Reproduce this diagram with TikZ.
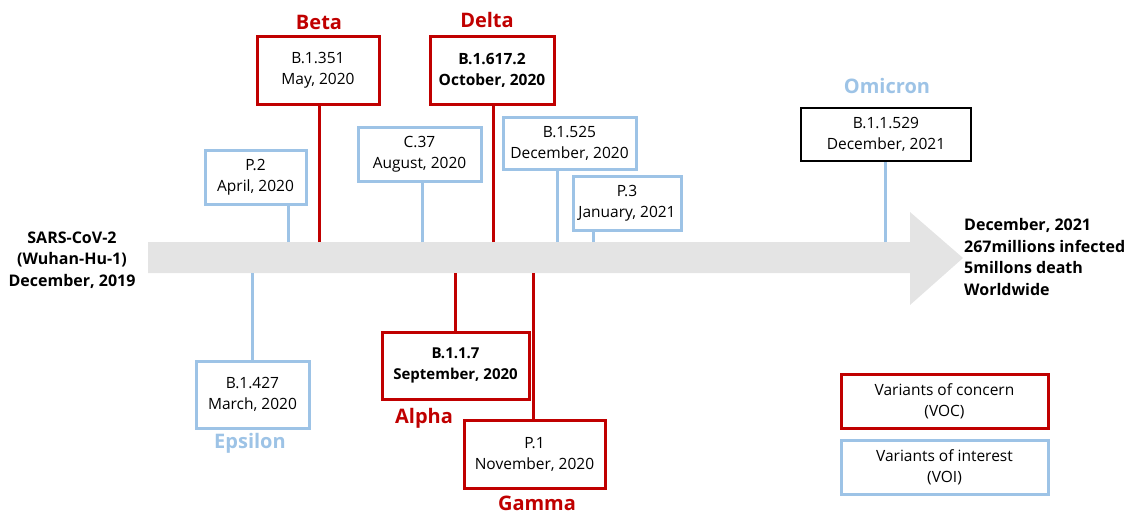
\documentclass[tikz,border=0pt]{standalone}
\usepackage{fontspec}
\setmainfont{Open Sans}
\definecolor{voc}{HTML}{C00000}
\definecolor{voi}{HTML}{9DC3E6}
\definecolor{band}{HTML}{E4E4E4}
\begin{document}
\begin{tikzpicture}[x=1pt,y=-1pt,
  vbox/.style={draw=#1,line width=3pt,fill=white,inner sep=0pt,align=center,
    font=\fontsize{15.5}{21}\selectfont},
  conn/.style={draw=#1,line width=3pt},
  lab/.style={text=#1,font=\fontsize{20}{24}\selectfont\bfseries,inner sep=0pt},
  info/.style={font=\fontsize{16}{21.5}\selectfont\bfseries,inner sep=0pt}]
\useasboundingbox (0,0) rectangle (1131,515);
% timeline arrow
\fill[band] (148,242) -- (910,242) -- (910,212) -- (963,258) -- (910,305) -- (910,273) -- (148,273) -- cycle;
% boxes
\node[vbox=voi,minimum width=101pt,minimum height=54pt] (P2) at (255.5,177) {P.2\\April, 2020};
\node[vbox=voc,minimum width=122pt,minimum height=68pt] (B1351) at (318,70) {B.1.351\\May, 2020};
\node[vbox=voi,minimum width=123pt,minimum height=54pt] (C37) at (419.5,154) {C.37\\August, 2020};
\node[vbox=voc,minimum width=124pt,minimum height=68pt,font=\fontsize{15.5}{21}\selectfont\bfseries] (B16172) at (492,70) {B.1.617.2\\October, 2020};
\node[vbox=voi,minimum width=133pt,minimum height=52pt] (B1525) at (569.5,143) {B.1.525\\December, 2020};
\node[vbox=voi,minimum width=108pt,minimum height=54pt] (P3) at (627,203) {P.3\\January, 2021};
\node[vbox=black,line width=1.4pt,minimum width=170pt,minimum height=53pt] (B11529) at (886,134.5) {B.1.1.529\\December, 2021};
\node[vbox=voi,minimum width=113pt,minimum height=67pt] (B1427) at (252.5,394.5) {B.1.427\\March, 2020};
\node[vbox=voc,minimum width=147pt,minimum height=67pt,font=\fontsize{15}{21}\selectfont\bfseries] (B117) at (455.5,365.5) {B.1.1.7\\September, 2020};
\node[vbox=voc,minimum width=141pt,minimum height=68pt] (P1) at (534.5,454) {P.1\\November, 2020};
\node[vbox=voc,minimum width=207pt,minimum height=54pt] (VOC) at (944.5,401) {Variants of concern\\(VOC)};
\node[vbox=voi,minimum width=207pt,minimum height=54pt] (VOI) at (944.5,467) {Variants of interest\\(VOI)};
% band anchor points
\coordinate (tP2) at (288,242);
\coordinate (tB1351) at (319,242);
\coordinate (tC37) at (422,242);
\coordinate (tB16172) at (493,242);
\coordinate (tB1525) at (557,242);
\coordinate (tP3) at (593,242);
\coordinate (tB11529) at (885,242);
\coordinate (bB1427) at (252,273);
\coordinate (bB117) at (455,273);
\coordinate (bP1) at (533,273);
% connectors
\draw[conn=voi] (tP2) -- (tP2 |- P2.south);
\draw[conn=voc] (tB1351) -- (tB1351 |- B1351.south);
\draw[conn=voi] (tC37) -- (tC37 |- C37.south);
\draw[conn=voc] (tB16172) -- (tB16172 |- B16172.south);
\draw[conn=voi] (tB1525) -- (tB1525 |- B1525.south);
\draw[conn=voi] (tP3) -- (tP3 |- P3.south);
\draw[conn=voi] (tB11529) -- (tB11529 |- B11529.south);
\draw[conn=voi] (bB1427) -- (bB1427 |- B1427.north);
\draw[conn=voc] (bB117) -- (bB117 |- B117.north);
\draw[conn=voc] (bP1) -- (bP1 |- P1.north);
% variant names
\node[lab=voc] (beta) at (319,22) {Beta};
\node[lab=voc] (delta) at (487,20) {Delta};
\node[lab=voi] (omicron) at (887,86) {Omicron};
\node[lab=voi] (epsilon) at (250,443) {Epsilon};
\node[lab=voc] (alpha) at (424,418) {Alpha};
\node[lab=voc] (gamma) at (537,503) {Gamma};
% side texts
\node[info,align=center] (start) at (72,260) {SARS-CoV-2\\(Wuhan-Hu-1)\\December, 2019};
\node[info,align=left,anchor=west] (end) at (964,257) {December, 2021\\267millions infected\\5millons death\\Worldwide};
\end{tikzpicture}
\end{document}
